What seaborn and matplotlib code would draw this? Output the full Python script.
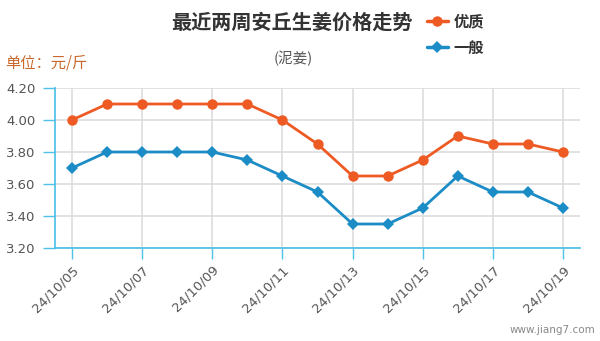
import matplotlib
matplotlib.use("Agg")
import matplotlib.pyplot as plt
import seaborn as sns
import pandas as pd
from matplotlib.lines import Line2D

dates = ["24/10/05", "24/10/06", "24/10/07", "24/10/08", "24/10/09", "24/10/10", "24/10/11",
         "24/10/12", "24/10/13", "24/10/14", "24/10/15", "24/10/16", "24/10/17", "24/10/18", "24/10/19"]
premium = [4.00, 4.10, 4.10, 4.10, 4.10, 4.10, 4.00, 3.85, 3.65, 3.65, 3.75, 3.90, 3.85, 3.85, 3.80]
general = [3.70, 3.80, 3.80, 3.80, 3.80, 3.75, 3.65, 3.55, 3.35, 3.35, 3.45, 3.65, 3.55, 3.55, 3.45]
series_names = ["优质", "一般"]
yticks = [3.20, 3.40, 3.60, 3.80, 4.00, 4.20]

sns.set_theme(style="white")
plt.rcParams['font.family'] = ['Noto Sans CJK SC', 'DejaVu Sans']

df = pd.DataFrame({
    "idx": list(range(len(dates))) * 2,
    "price": premium + general,
    "series": [series_names[0]] * len(dates) + [series_names[1]] * len(dates),
})

orange = "#ee5a24"
blue = "#1b8cc6"
axis_c = "#4fc1e9"

fig = plt.figure(figsize=(6, 3.41), dpi=100)
ax = fig.add_axes([55/600, 1-248/341, (580-55)/600, (248-88)/341])

sns.lineplot(data=df, x="idx", y="price", hue="series", style="series",
             palette={series_names[0]: orange, series_names[1]: blue},
             markers={series_names[0]: "o", series_names[1]: "D"},
             dashes=False, markersize=7.5, linewidth=2, markeredgewidth=0,
             ax=ax, legend=False, zorder=3)
for l in ax.lines:
    if l.get_marker() == "D":
        l.set_markersize(6)

ax.set_xlim(-0.485, 14.485)
ax.set_ylim(3.20, 4.20)
ax.set_yticks(yticks)
ax.set_yticklabels([f"{v:.2f}" for v in yticks], fontsize=9.5, color="#555555",
                   family=["DejaVu Sans"])
ax.set_xticks(list(range(0, len(dates), 2)))
ax.set_xticklabels(dates[::2], rotation=45, ha="right", va="top", fontsize=9.5,
                   color="#555555", rotation_mode="anchor", family=["DejaVu Sans"])
ax.set_xlabel("")
ax.set_ylabel("")

ax.grid(True, color="#dddddd", linewidth=1.2, zorder=0)
ax.set_axisbelow(True)
for s in ["top", "right"]:
    ax.spines[s].set_visible(False)
ax.spines["left"].set_color(axis_c)
ax.spines["bottom"].set_color(axis_c)
ax.tick_params(axis="y", which="both", length=9, color=axis_c, width=1, pad=5, left=True)
ax.tick_params(axis="x", which="both", length=8, color=axis_c, width=1, pad=3, bottom=True)

fig.text(292/600, 1-22/341, "最近两周安丘生姜价格走势", ha="center", va="center",
         fontsize=14.5, fontweight="bold", color="#333333")
fig.text(293/600, 1-58/341, "(泥姜)", ha="center", va="center", fontsize=10.5, color="#555555")
fig.text(5/600, 1-63/341, "单位：元/斤", ha="left", va="center", fontsize=11, color="#c8682b")
fig.text(595/600, 1-330/341, "www.jiang7.com", ha="right", va="center", fontsize=7.5, color="#888888",
         family=["DejaVu Sans"])

handles = [Line2D([0], [0], color=orange, marker="o", markersize=7.5, linewidth=2.5, markeredgewidth=0),
           Line2D([0], [0], color=blue, marker="D", markersize=6, linewidth=2.5, markeredgewidth=0)]
leg = fig.legend(handles, series_names, loc="upper left", bbox_to_anchor=(427/600, 1-13/341),
                 frameon=False, fontsize=11, handlelength=1.35, labelspacing=0.7,
                 handletextpad=0.4, borderaxespad=0, borderpad=0)
for t in leg.get_texts():
    t.set_fontweight("bold")
    t.set_color("#333333")

fig.savefig("out.png", dpi=100)
